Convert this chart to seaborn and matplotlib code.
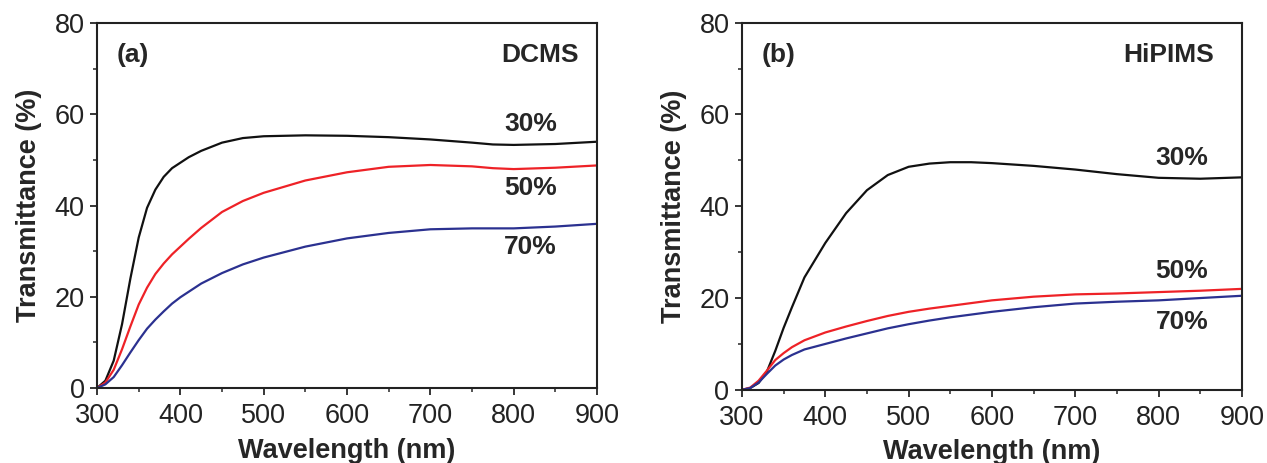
import seaborn as sns
import pandas as pd
import numpy as np
import matplotlib.pyplot as plt
from matplotlib.ticker import MultipleLocator

# wavelength grid (nm) and transmittance (%)
wl_dcms = [300, 310, 320, 330, 340, 350, 360, 370, 380, 390, 400, 410, 425, 450, 475,
           500, 550, 600, 650, 700, 750, 775, 800, 850, 900]
dcms_30 = [0, 1.6, 6, 14, 24, 33, 39.5, 43.5, 46.3, 48.2, 49.4, 50.6, 52.0, 53.8, 54.8,
           55.2, 55.4, 55.3, 55.0, 54.5, 53.8, 53.4, 53.3, 53.5, 54.0]
dcms_50 = [0, 1.2, 4, 8.5, 13.5, 18.3, 22, 25, 27.3, 29.3, 31.0, 32.7, 35.1, 38.6, 41.0,
           42.8, 45.5, 47.3, 48.5, 48.9, 48.6, 48.2, 48.0, 48.3, 48.8]
dcms_70 = [0, 0.8, 2.4, 5, 7.8, 10.5, 13, 15, 16.8, 18.5, 19.9, 21.1, 22.9, 25.2, 27.1,
           28.6, 31, 32.8, 34, 34.8, 35.0, 35.0, 35.0, 35.4, 36.0]

wl_hipims = [300, 310, 320, 330, 340, 350, 360, 375, 400, 425, 450, 475, 500, 525,
             550, 575, 600, 650, 700, 750, 800, 850, 900]
hipims_30 = [0, 0.4, 1.5, 4, 8.5, 13.5, 18, 24.5, 32, 38.5, 43.5, 46.8, 48.6, 49.3,
             49.6, 49.6, 49.4, 48.8, 48.0, 47.0, 46.2, 46.0, 46.3]
hipims_50 = [0, 0.5, 2, 4.2, 6.5, 8, 9.3, 10.8, 12.5, 13.8, 15, 16.1, 17, 17.7,
             18.3, 18.9, 19.5, 20.3, 20.8, 21.0, 21.3, 21.6, 22.0]
hipims_70 = [0, 0.4, 1.6, 3.5, 5.3, 6.6, 7.6, 8.8, 10, 11.2, 12.3, 13.4, 14.3, 15.1,
             15.8, 16.4, 17.0, 18.0, 18.8, 19.2, 19.5, 20.0, 20.5]

labels = ["30%", "50%", "70%"]
colors = {"30%": "#111111", "50%": "#ee2227", "70%": "#2b3190"}

dcms = pd.concat([pd.DataFrame({"wl": wl_dcms, "T": v, "O2": l})
                  for v, l in zip([dcms_30, dcms_50, dcms_70], labels)])
hipims = pd.concat([pd.DataFrame({"wl": wl_hipims, "T": v, "O2": l})
                    for v, l in zip([hipims_30, hipims_50, hipims_70], labels)])

sns.set_style("ticks")
plt.rcParams['font.family'] = ['Liberation Sans', 'DejaVu Sans']

fig = plt.figure(figsize=(12.67, 4.63), dpi=100)
ax1 = fig.add_axes([0.0766, 0.162, 0.3946, 0.788])
ax2 = fig.add_axes([0.5856, 0.158, 0.3946, 0.793])

panels = [
    (ax1, dcms, "(a)", "DCMS", 878, {"30%": 57.9, "50%": 43.8, "70%": 30.9}, 820),
    (ax2, hipims, "(b)", "HiPIMS", 866, {"30%": 50.6, "50%": 26.0, "70%": 14.8}, 828),
]

for ax, df, tag, name, name_x, lab_y, lab_x in panels:
    sns.lineplot(data=df, x="wl", y="T", hue="O2", palette=colors, ax=ax,
                 linewidth=1.6, legend=False)
    ax.set_xlim(300, 900)
    ax.set_ylim(0, 80)
    ax.xaxis.set_major_locator(MultipleLocator(100))
    ax.xaxis.set_minor_locator(MultipleLocator(50))
    ax.yaxis.set_major_locator(MultipleLocator(20))
    ax.yaxis.set_minor_locator(MultipleLocator(10))
    ax.tick_params(which="major", length=5, width=1.3, labelsize=19.5,
                   labelcolor="#222222", direction="out")
    ax.tick_params(axis="x", which="major", pad=6)
    ax.tick_params(axis="y", which="major", pad=4)
    ax.tick_params(which="minor", length=3, width=1.1, direction="out")
    for s in ax.spines.values():
        s.set_linewidth(1.5)
        s.set_color("#222222")
    ax.set_xlabel("Wavelength (nm)", fontsize=19.5, fontweight="bold", labelpad=6)
    ax.set_ylabel("Transmittance (%)", fontsize=19.5, fontweight="bold", labelpad=9)
    ax.text(324, 73, tag, fontsize=19, fontweight="bold", va="center", ha="left")
    ax.text(name_x, 73, name, fontsize=19, fontweight="bold", va="center", ha="right")
    for l in labels:
        ax.text(lab_x, lab_y[l], l, fontsize=19, fontweight="bold", va="center", ha="center")

fig.savefig("out.png", dpi=100)
